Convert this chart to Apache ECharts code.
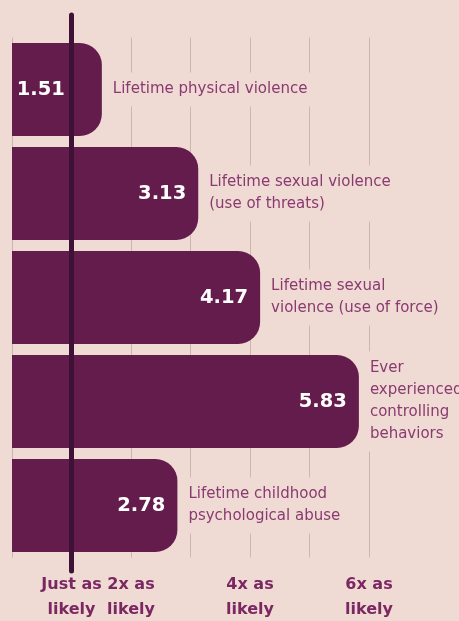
<!DOCTYPE html>
<html>
  <head>
    <meta http-equiv="Content-Type" content="text/html; charset=UTF-8">
    <title>likelihood chart</title>
    <style type="text/css">
      body {
        margin: 0;
        padding: 0;
        background-color: #efdbd4;
      }
      #main {
        width: 459px;
        height: 621px;
      }
    </style>
  </head>
  <body>
    <div id="main"></div>
    <script src="https://cdn.jsdelivr.net/npm/echarts@6/dist/echarts.min.js" type="text/javascript"></script>
    <script type="text/javascript">
      var categories = [
        'Lifetime physical violence',
        'Lifetime sexual violence\n(use of threats)',
        'Lifetime sexual\nviolence (use of force)',
        'Ever\nexperienced\ncontrolling\nbehaviors',
        'Lifetime childhood\npsychological abuse'
      ];
      var values = [1.51, 3.13, 4.17, 5.83, 2.78];
      var tickValues = [1, 2, 4, 6];
      var tickLabels = ['Just as\nlikely', '2x as\nlikely', '4x as\nlikely', '6x as\nlikely'];
      var baseline = 1;

      var bg = '#efdbd4';
      var myChart = echarts.init(document.getElementById('main'));

      var option = {
          backgroundColor: bg,
          animation: false,
          grid: { left: 12, top: 37.5, width: 357, height: 520, outerBoundsMode: 'none', containLabel: false },
          xAxis: {
              type: 'value',
              min: 0,
              max: 6,
              interval: 1,
              axisLine: { show: false },
              axisTick: { show: false },
              splitLine: { lineStyle: { color: '#cbb6b0', width: 1 } },
              axisLabel: {
                  margin: 15,
                  color: '#7b2762',
                  fontFamily: 'DejaVu Sans',
                  fontWeight: 'bold',
                  fontSize: 16,
                  lineHeight: 25,
                  formatter: function (v) {
                      var i = tickValues.indexOf(v);
                      return i < 0 ? '' : tickLabels[i];
                  }
              }
          },
          yAxis: {
              type: 'category',
              inverse: true,
              data: categories,
              show: false
          },
          series: [
              {
                  type: 'bar',
                  data: values.map(function (v, i) {
                      // first label sits left of the baseline line
                      return i === 0 ? { value: v, label: { offset: [-25, 0] } } : v;
                  }),
                  barWidth: 93,
                  itemStyle: { color: '#641c4c', borderRadius: [0, 22, 22, 0] },
                  label: {
                      show: true,
                      position: 'insideRight',
                      distance: 12,
                      color: '#ffffff',
                      fontFamily: 'DejaVu Sans',
                      fontWeight: 'bold',
                      fontSize: 19.5
                  },
                  z: 3
              },
              {
                  type: 'bar',
                  data: values,
                  barWidth: 93,
                  barGap: '-100%',
                  itemStyle: { color: 'transparent' },
                  silent: true,
                  label: {
                      show: true,
                      position: 'right',
                      distance: 8,
                      color: '#8a3a70',
                      fontFamily: 'DejaVu Sans',
                      fontSize: 15,
                      lineHeight: 22,
                      backgroundColor: bg,
                      padding: [6, 3],
                      formatter: function (p) { return p.name; }
                  },
                  z: 4
              }
          ]
      };
      myChart.setOption(option);

      // thick reference line at "just as likely", longer than the grid
      var lx = myChart.convertToPixel({ xAxisIndex: 0 }, baseline);
      myChart.setOption({
          graphic: [{
              type: 'line',
              shape: { x1: lx, y1: 15, x2: lx, y2: 571 },
              style: { stroke: '#3e1237', lineWidth: 5, lineCap: 'round' },
              z: 10
          }]
      });
    </script>
  </body>
</html>
